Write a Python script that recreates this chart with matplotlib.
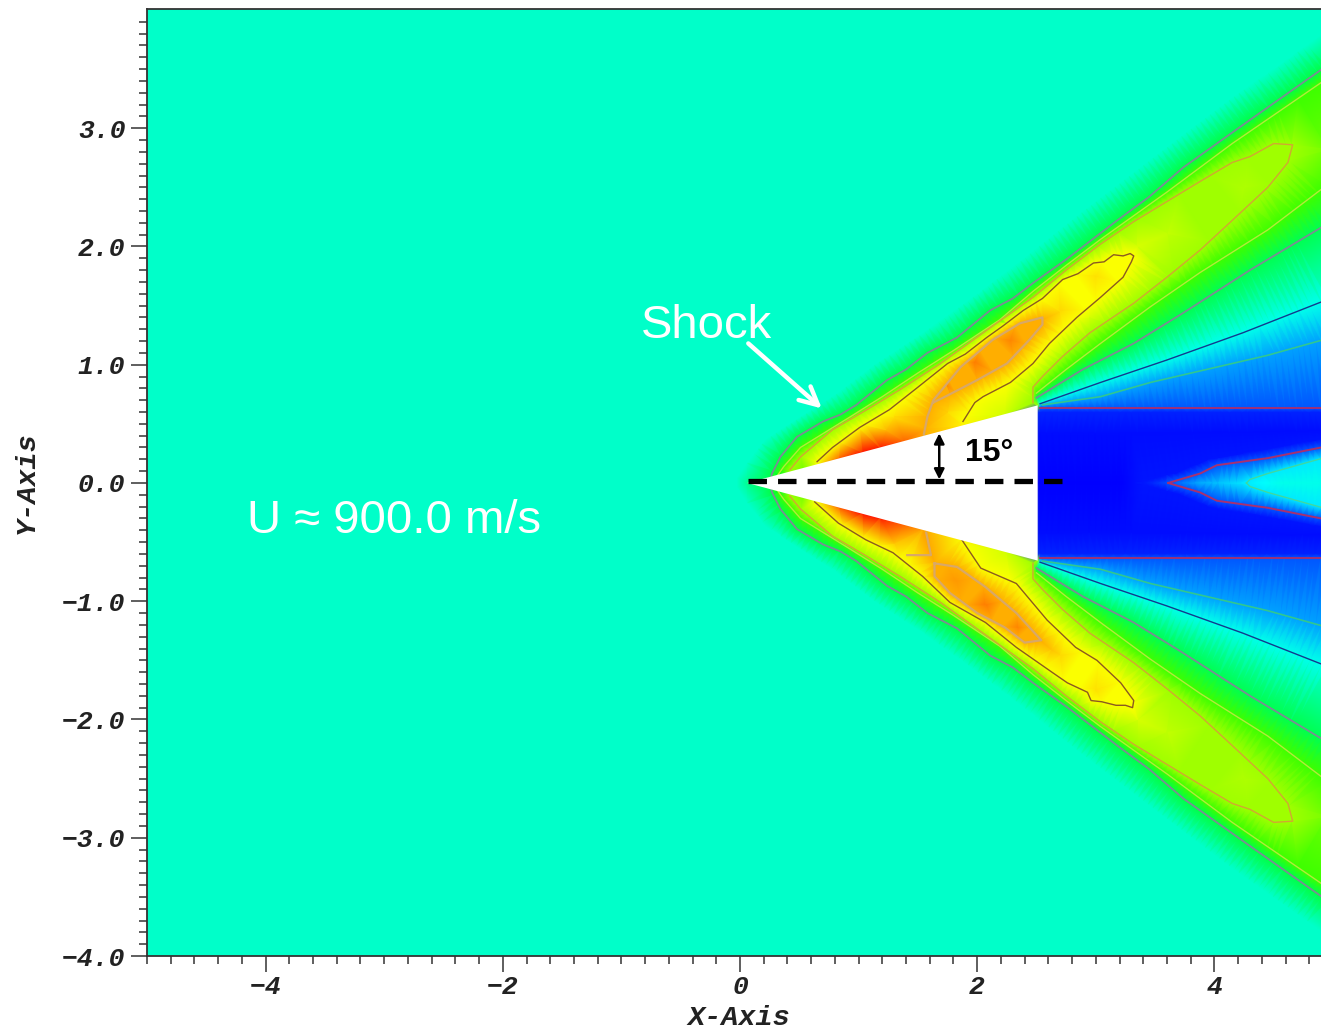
import numpy as np
import matplotlib
matplotlib.use("Agg")
import matplotlib.pyplot as plt
from matplotlib.colors import LinearSegmentedColormap
from matplotlib.tri import Triangulation

# contour lines (x, y in axis units), upper half
edge_x = [-0.05, 0.05, 0.21, 0.47, 0.80, 1.14, 1.52, 1.94, 2.36, 2.86, 3.46, 4.13, 4.95]
edge_y = [0.0, 0.15, 0.36, 0.53, 0.74, 1.00, 1.25, 1.55, 1.87, 2.27, 2.73, 3.24, 3.82]

shock_x = [0.25, 0.27, 0.34, 0.48, 0.70, 0.85, 0.98, 1.24, 1.40, 1.58, 1.83, 2.11, 2.30, 2.47, 2.75, 3.18,
           3.45, 3.74, 4.30, 4.95]
shock_y = [0.0, 0.08, 0.22, 0.39, 0.52, 0.58, 0.66, 0.87, 0.96, 1.10, 1.23, 1.46, 1.56, 1.69, 1.89, 2.22,
           2.42, 2.67, 3.07, 3.53]

outer_x = [0.30, 0.37, 0.51, 0.93, 1.20, 1.50, 1.80, 2.19, 2.47, 2.75, 3.04, 3.60, 4.15, 4.95]
outer_y = [0.04, 0.14, 0.30, 0.56, 0.73, 0.93, 1.12, 1.38, 1.62, 1.84, 2.06, 2.46, 2.87, 3.42]

lobe_x = [0.42, 0.51, 0.78, 1.07, 1.35, 1.69, 2.05, 2.47, 2.75, 3.04, 3.32, 3.60, 3.88, 4.15, 4.30, 4.50, 4.66,
          4.62, 4.45, 4.15, 3.88, 3.60, 3.32, 2.95, 2.72, 2.55, 2.47, 2.47]
lobe_y = [0.11, 0.22, 0.45, 0.62, 0.79, 1.01, 1.27, 1.57, 1.80, 2.02, 2.21, 2.38, 2.55, 2.71, 2.76, 2.87, 2.86,
          2.71, 2.50, 2.22, 1.97, 1.74, 1.52, 1.27, 1.07, 0.90, 0.81, 0.68]

inner_x = [2.50, 2.75, 3.04, 3.46, 3.88, 4.45, 4.95]
inner_y = [0.76, 0.96, 1.18, 1.49, 1.78, 2.14, 2.52]

back_x = [2.50, 2.89, 3.32, 3.74, 4.30, 4.95]
back_y = [0.72, 0.96, 1.18, 1.44, 1.80, 2.19]

expan_x = [2.53, 3.04, 3.60, 4.24, 4.95]
expan_y = [0.67, 0.85, 1.04, 1.27, 1.55]

shear_x = [2.55, 3.04, 3.46, 4.02, 4.45, 4.95]
shear_y = [0.66, 0.73, 0.85, 0.98, 1.08, 1.22]

base_x = [2.53, 3.2, 4.0, 4.95]
base_y = [0.634, 0.634, 0.634, 0.634]

wake_x = [3.61, 3.88, 4.02, 4.45, 4.95]
wake_y = [0.0, 0.08, 0.15, 0.21, 0.31]

core_x = [4.27, 4.30, 4.45, 4.95]
core_y = [0.0, 0.03, 0.08, 0.22]

top_x = [0.65, 0.78, 1.01, 1.26, 1.50, 1.75, 1.90, 2.08, 2.22, 2.39, 2.55, 2.72, 2.85, 2.98, 3.07, 3.15, 3.23,
         3.29, 3.32, 3.30, 3.23, 3.04, 2.84, 2.61, 2.47, 2.28, 2.05, 1.98, 1.88]
top_y = [0.18, 0.30, 0.47, 0.62, 0.81, 1.01, 1.09, 1.23, 1.33, 1.46, 1.56, 1.72, 1.77, 1.86, 1.87, 1.93, 1.92,
         1.94, 1.92, 1.87, 1.74, 1.57, 1.40, 1.18, 1.01, 0.85, 0.73, 0.68, 0.52]

bottom_x = [0.63, 0.83, 1.06, 1.29, 1.54, 1.77, 2.07, 2.33, 2.63, 2.76, 2.93, 2.96, 3.05, 3.17, 3.25, 3.31, 3.32,
            3.21, 3.01, 2.83, 2.59, 2.33, 2.03, 1.87]
bottom_y = [-0.16, -0.34, -0.48, -0.59, -0.79, -1.01, -1.18, -1.39, -1.60, -1.69, -1.77, -1.84, -1.85, -1.88,
            -1.88, -1.90, -1.84, -1.69, -1.50, -1.39, -1.16, -0.85, -0.72, -0.48]

hot_top_x = [1.55, 1.58, 1.63, 1.86, 2.13, 2.36, 2.55, 2.55, 2.44, 2.25, 2.00, 1.75, 1.63]
hot_top_y = [0.41, 0.56, 0.70, 0.98, 1.21, 1.35, 1.40, 1.34, 1.21, 1.01, 0.87, 0.74, 0.68]

hot_bot_x = [1.64, 1.83, 2.07, 2.33, 2.54, 2.40, 2.23, 2.00, 1.77, 1.64, 1.64]
hot_bot_y = [-0.68, -0.71, -0.88, -1.10, -1.33, -1.35, -1.22, -1.10, -0.93, -0.79, -0.68]

hot_nose_x = [1.57, 1.61, 1.41]
hot_nose_y = [-0.42, -0.61, -0.61]

# values at the body surface and at single spots inside the bands
wall_x = [0.06, 0.33, 0.53, 0.65, 0.83, 1.03, 1.18, 1.38, 1.54, 1.88, 2.24, 2.51]
wall_v = [0.36, 0.47, 0.62, 0.74, 0.90, 0.98, 0.97, 0.90, 0.84, 0.76, 0.70, 0.66]
spot_x = [3.60, 4.25, 4.95, 3.35, 2.95, 2.70, 3.00]
spot_y = [2.11, 2.50, 2.82, 2.00, 1.40, 1.45, 1.75]
spot_v = [0.69, 0.67, 0.61, 0.71, 0.71, 0.79, 0.78]
spot_top_x = [1.23, 1.75, 1.98, 2.28, 1.74, 1.30]
spot_top_y = [0.45, 0.60, 1.02, 1.21, 0.83, 0.56]
spot_top_v = [0.82, 0.79, 0.88, 0.87, 0.87, 0.78]
spot_low_x = [2.07, 1.82, 2.34, 2.63, 1.30]
spot_low_y = [-1.03, -0.83, -1.22, -1.41, -0.52]
spot_low_v = [0.88, 0.85, 0.87, 0.81, 0.80]

# centre line of the base wake and the flanks around it
axis_x = [2.53, 3.20, 3.45, 3.61, 3.88, 4.27, 4.55, 4.95]
axis_v = [0.0, 0.0, 0.03, 0.08, 0.17, 0.23, 0.27, 0.27]
lip_x = [2.53, 4.95]
lip_y = [0.60, 0.60]
deep_x = [2.53, 3.30, 4.95]
deep_y = [0.42, 0.42, 0.44]
halo_x = [3.35, 3.70, 3.95, 4.40, 4.95]
halo_y = [0.0, 0.09, 0.20, 0.28, 0.38]

FREE = 0.304
x_ticks = [-4, -2, 0, 2, 4]
y_ticks = [-4.0, -3.0, -2.0, -1.0, 0.0, 1.0, 2.0, 3.0]


def dense(xs, ys, step=0.05):
    # extra mesh nodes along a contour so the triangles follow it
    xs, ys = np.array(xs, float), np.array(ys, float)
    s = np.r_[0, np.cumsum(np.hypot(np.diff(xs), np.diff(ys)))]
    t = np.linspace(0, s[-1], max(int(s[-1] / step), 2))
    return np.interp(t, s, xs), np.interp(t, s, ys)


mesh = []


def add(xs, ys, v, both=True):
    dx, dy = dense(xs, ys)
    mesh.append(np.c_[dx, dy, np.full(dx.size, v)])
    if both:
        mesh.append(np.c_[dx, -dy, np.full(dx.size, v)])


add(edge_x, edge_y, FREE)
add(shock_x, shock_y, 0.43)
add(outer_x, outer_y, 0.56)
add(lobe_x, lobe_y, 0.655)
add(inner_x, inner_y, 0.56)
add(back_x, back_y, 0.42)
add(expan_x, expan_y, 0.27)
add(shear_x, shear_y, 0.16)
add(base_x, base_y, 0.085)
add(lip_x, lip_y, 0.035)
add(deep_x, deep_y, 0.012)
add(halo_x, halo_y, 0.02)
add(wake_x, wake_y, 0.085)
add(core_x, core_y, 0.23)
add(top_x, top_y, 0.745, both=False)
add(bottom_x, bottom_y, 0.745, both=False)
add(hot_top_x, hot_top_y, 0.83, both=False)
add(hot_bot_x, hot_bot_y, 0.83, both=False)

wall_y = [(w - wall_x[0]) * np.tan(np.radians(15)) for w in wall_x]
mesh.append(np.c_[wall_x, wall_y, wall_v])
mesh.append(np.c_[wall_x, -np.array(wall_y), wall_v])
mesh.append(np.c_[spot_x, spot_y, spot_v])
mesh.append(np.c_[spot_x, -np.array(spot_y), spot_v])
mesh.append(np.c_[spot_top_x, spot_top_y, spot_top_v])
mesh.append(np.c_[spot_low_x, spot_low_y, spot_low_v])
# nodes along the centre line, so the wake has no gaps between the read values
line_x = np.arange(2.53, 4.95, 0.05)
mesh.append(np.c_[line_x, np.zeros(line_x.size), np.interp(line_x, axis_x, axis_v)])
mesh.append(np.array([[-5, -4.05, FREE], [-5, 4.05, FREE], [0, 4.05, FREE], [0, -4.05, FREE],
                      [4.95, 4.05, FREE], [4.95, -4.05, FREE], [-5, 0, FREE], [-2, 0, FREE],
                      [-2, 3, FREE], [-2, -3, FREE], [2, 3.5, FREE], [2, -3.5, FREE]]))
pts = np.vstack(mesh)
_, keep = np.unique(np.round(pts[:, :2], 3), axis=0, return_index=True)
pts = pts[keep]

rainbow = LinearSegmentedColormap.from_list(
    "rainbow5", ["#0000ff", "#00ffff", "#00ff00", "#ffff00", "#ff0000"], N=512)

fig = plt.figure(figsize=(13.21, 10.31), dpi=100)
ax = fig.add_axes([147 / 1321, 75 / 1031, 1174 / 1321, 947 / 1031])
tri = Triangulation(pts[:, 0], pts[:, 1])
ax.tripcolor(tri, pts[:, 2], shading="gouraud", cmap=rainbow, vmin=0, vmax=1, zorder=1)

lines = [
    (shock_x, shock_y, "#7c8c94", 1.3), (outer_x, outer_y, "#b4ea3c", 1.0),
    (lobe_x, lobe_y, "#d0a832", 1.0), (inner_x, inner_y, "#b4ea3c", 1.0),
    (back_x, back_y, "#7c8c94", 1.3), (expan_x, expan_y, "#123a8e", 1.0),
    (shear_x, shear_y, "#30c890", 1.2), (base_x, base_y, "#a03078", 1.4),
    (wake_x, wake_y, "#a83070", 1.4), (core_x, core_y, "#40d8a0", 1.0),
]
for xs, ys, c, lw in lines:
    ax.plot(xs, ys, color=c, lw=lw, zorder=2)
    ax.plot(xs, -np.array(ys), color=c, lw=lw, zorder=2)
ax.plot(top_x, top_y, color="#8a5a20", lw=1.0, zorder=2)
ax.plot(bottom_x, bottom_y, color="#8a5a20", lw=1.0, zorder=2)
for xs, ys in [(hot_top_x, hot_top_y), (hot_bot_x, hot_bot_y), (hot_nose_x, hot_nose_y)]:
    ax.plot(xs, ys, color="#d8a868", lw=1.6, zorder=2)

# wedge body
ax.fill([wall_x[0], wall_x[-1], wall_x[-1]], [0, wall_y[-1], -wall_y[-1]], color="white", lw=0, zorder=3)

ax.plot([0.067, 2.715], [0.02, 0.02], color="black", lw=3.8, dashes=(3.5, 2.1), dash_capstyle="butt", zorder=4)
ax.annotate("", xy=(0.69, 0.63), xytext=(0.07, 1.18), zorder=5,
            arrowprops=dict(arrowstyle="->,head_length=1.3,head_width=0.65", color="white", lw=3.2,
                            shrinkA=0, shrinkB=0))
ax.annotate("", xy=(1.68, 0.42), xytext=(1.68, 0.03), zorder=5,
            arrowprops=dict(arrowstyle="<|-|>,head_length=0.6,head_width=0.3", color="black", lw=1.8,
                            shrinkA=0, shrinkB=0))
ax.text(-0.287, 1.325, "Shock", color="white", fontsize=34, family="Liberation Sans",
        ha="center", va="center", zorder=5)
ax.text(-2.917, -0.325, "U \u2248 900.0 m/s", color="white", fontsize=34, family="Liberation Sans",
        ha="center", va="center", zorder=5)
ax.text(2.10, 0.255, "15\u00b0", color="black", fontsize=23, family="Liberation Sans", weight="bold",
        ha="center", va="center", zorder=5)

ax.set_xlim(-5, -5 + 1174 / 118.6)
ax.set_ylim(-4, 4.008)
mono = dict(family="Liberation Mono", weight="bold", style="italic", color="#222222")
ax.set_xticks(x_ticks)
ax.set_xticklabels([str(t).replace("-", "\u2212") for t in x_ticks], fontsize=19, **mono)
ax.set_yticks(y_ticks)
ax.set_yticklabels([f"{t:.1f}".replace("-", "\u2212") for t in y_ticks], fontsize=19, **mono)
ax.set_xticks(np.arange(-5, 5, 0.2), minor=True)
ax.set_yticks(np.arange(-3.9, 3.95, 0.1), minor=True)
ax.tick_params(axis="y", which="major", length=11.5, width=1.1, color="#333333", pad=4)
ax.tick_params(axis="x", which="major", length=11.5, width=1.1, color="#333333", pad=2.5)
ax.tick_params(which="minor", length=5.5, width=1.1, color="#333333")
ax.set_xlabel("X-Axis", fontsize=20.5, labelpad=4, x=0.504, **mono)
ax.set_ylabel("Y-Axis", fontsize=20.5, labelpad=16, **mono)
for side in ["left", "bottom", "top"]:
    ax.spines[side].set_color("#333333")
    ax.spines[side].set_linewidth(1.3)
ax.spines["right"].set_visible(False)

fig.savefig("out.png", dpi=100)
